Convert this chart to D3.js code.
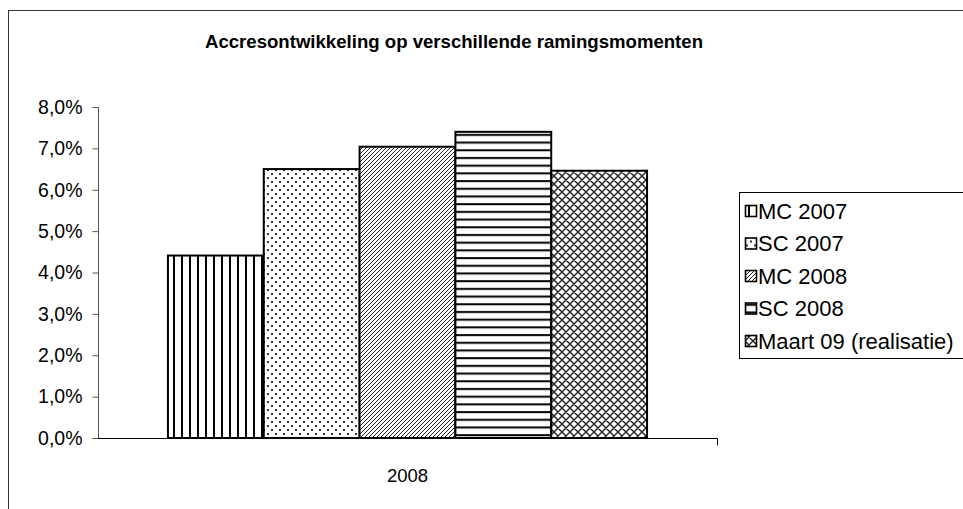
<!DOCTYPE html>
<html>
<head>
<meta charset="utf-8">
<title>Accresontwikkeling</title>
<script src="https://d3js.org/d3.v7.min.js"></script>
<style type="text/css">
	body{
		margin:0;
		background:white;
	}
	text{
		font-family: Arial, "Liberation Sans", sans-serif;
		fill: black;
	}
	.bar{
		stroke: black;
		stroke-width: 2px;
	}
	.frame{
		fill: none;
		stroke: #333;
		stroke-width: 1px;
	}
</style>
</head>
<body>
<svg id="chart" width="963" height="509"></svg>
<script>
	// data
	var categories = ["2008"];
	var seriesNames = ["MC 2007", "SC 2007", "MC 2008", "SC 2008", "Maart 09 (realisatie)"];
	var seriesValues = [0.0441, 0.0650, 0.0704, 0.0740, 0.0646];
	var yTicks = [0, 0.01, 0.02, 0.03, 0.04, 0.05, 0.06, 0.07, 0.08];
	var patternIds = ["pVert", "pDots", "pDiag", "pHoriz", "pCross"];

	var svg = d3.select("#chart");
	var plot = { left: 98, right: 717, top: 107, bottom: 438 };

	// patterns
	var defs = svg.append("defs");
	var p;
	p = defs.append("pattern").attr("id","pVert").attr("patternUnits","userSpaceOnUse")
		.attr("width",8).attr("height",8);
	p.append("rect").attr("width",8).attr("height",8).attr("fill","white");
	p.append("rect").attr("x",3).attr("width",2).attr("height",8).attr("fill","black");

	p = defs.append("pattern").attr("id","pDots").attr("patternUnits","userSpaceOnUse")
		.attr("width",8).attr("height",8);
	p.append("rect").attr("width",8).attr("height",8).attr("fill","white");
	p.append("rect").attr("x",1).attr("y",1).attr("width",2).attr("height",2).attr("fill","#333");
	p.append("rect").attr("x",5).attr("y",5).attr("width",2).attr("height",2).attr("fill","#333");

	p = defs.append("pattern").attr("id","pDiag").attr("patternUnits","userSpaceOnUse")
		.attr("width",4).attr("height",4);
	p.append("rect").attr("width",4).attr("height",4).attr("fill","white");
	p.append("path").attr("d","M-1,1 l2,-2 M0,4 l4,-4 M3,5 l2,-2")
		.attr("stroke","#222").attr("stroke-width",1);

	p = defs.append("pattern").attr("id","pHoriz").attr("patternUnits","userSpaceOnUse")
		.attr("width",8).attr("height",7.7);
	p.append("rect").attr("width",8).attr("height",7.7).attr("fill","white");
	p.append("rect").attr("y",3).attr("width",8).attr("height",2).attr("fill","black");

	p = defs.append("pattern").attr("id","pCross").attr("patternUnits","userSpaceOnUse")
		.attr("width",8).attr("height",8);
	p.append("rect").attr("width",8).attr("height",8).attr("fill","white");
	p.append("path").attr("d","M0,0 L8,8 M8,0 L0,8 M-1,7 l2,2 M7,-1 l2,2 M-1,1 l2,-2 M7,9 l2,-2")
		.attr("stroke","#222").attr("stroke-width",1.4);

	// outer frame
	svg.append("rect").attr("class","frame")
		.attr("x",8.5).attr("y",10.5).attr("width",1000).attr("height",600);

	// title
	svg.append("text")
		.attr("x",454).attr("y",48)
		.attr("text-anchor","middle")
		.style("font-weight","bold")
		.style("font-size","18.6px")
		.text("Accresontwikkeling op verschillende ramingsmomenten");

	// scales
	var x0 = d3.scaleBand().domain(categories).range([plot.left, plot.right]);
	var x1 = d3.scaleBand().domain(seriesNames).range([0, x0.bandwidth()])
		.paddingInner(0).paddingOuter(0.73);
	var y = d3.scaleLinear().domain([0, 0.08]).range([plot.bottom, plot.top]);

	var locale = d3.formatLocale({decimal: ",", thousands: ".", grouping: [3], currency: ["€",""]});
	var fmt = locale.format(".1%");

	// y axis
	var yAxis = svg.append("g")
		.attr("transform","translate("+(plot.left+0.5)+",0)")
		.call(d3.axisLeft(y).tickValues(yTicks).tickFormat(fmt).tickSize(6).tickPadding(10));
	yAxis.selectAll("path, line").attr("stroke","#555");
	yAxis.select(".domain").attr("d","M-6,"+(plot.top+0.5)+"H0V"+(plot.bottom+0.5)+"H-6");
	yAxis.selectAll("text")
		.style("font-family","Arial, 'Liberation Sans', sans-serif")
		.style("font-size","19.5px");

	// bars
	var groups = svg.selectAll(".cat").data(categories).enter()
		.append("g").attr("class","cat")
		.attr("transform", function(d){ return "translate("+x0(d)+",0)"; });

	groups.selectAll("rect")
		.data(seriesNames.map(function(s,i){ return {name:s, value:seriesValues[i], pat:patternIds[i]}; }))
		.enter().append("rect")
		.attr("class","bar")
		.attr("x", function(d){ return x1(d.name); })
		.attr("y", function(d){ return y(d.value); })
		.attr("width", x1.bandwidth())
		.attr("height", function(d){ return y(0) - y(d.value); })
		.attr("fill", function(d){ return "url(#"+d.pat+")"; });

	// x axis
	var xAxis = svg.append("g")
		.attr("transform","translate(0,"+(plot.bottom+0.5)+")")
		.call(d3.axisBottom(x0).tickSize(0).tickPadding(30));
	xAxis.select(".domain").attr("stroke","black")
		.attr("d","M"+plot.left+",0H"+(plot.right+0.5)+"V7");
	xAxis.selectAll("text")
		.style("font-family","Arial, 'Liberation Sans', sans-serif")
		.style("font-size","18.5px");

	// legend
	var legend = svg.append("g");
	legend.append("rect")
		.attr("x",739.5).attr("y",192.5).attr("width",300).attr("height",166)
		.attr("fill","white").attr("stroke","black").attr("stroke-width",1);
	var items = legend.selectAll(".item").data(seriesNames).enter()
		.append("g").attr("class","item")
		.attr("transform", function(d,i){ return "translate(745,"+(211 + i*32.5)+")"; });
	items.append("rect")
		.attr("x",0.5).attr("y",-5.5).attr("width",11).attr("height",11)
		.attr("fill", function(d,i){ return "url(#"+patternIds[i]+")"; })
		.attr("stroke","black").attr("stroke-width",1.6);
	items.append("text")
		.attr("x",13).attr("y",0).attr("dy","0.35em")
		.style("font-size","22px")
		.text(function(d){ return d; });
</script>
</body>
</html>
